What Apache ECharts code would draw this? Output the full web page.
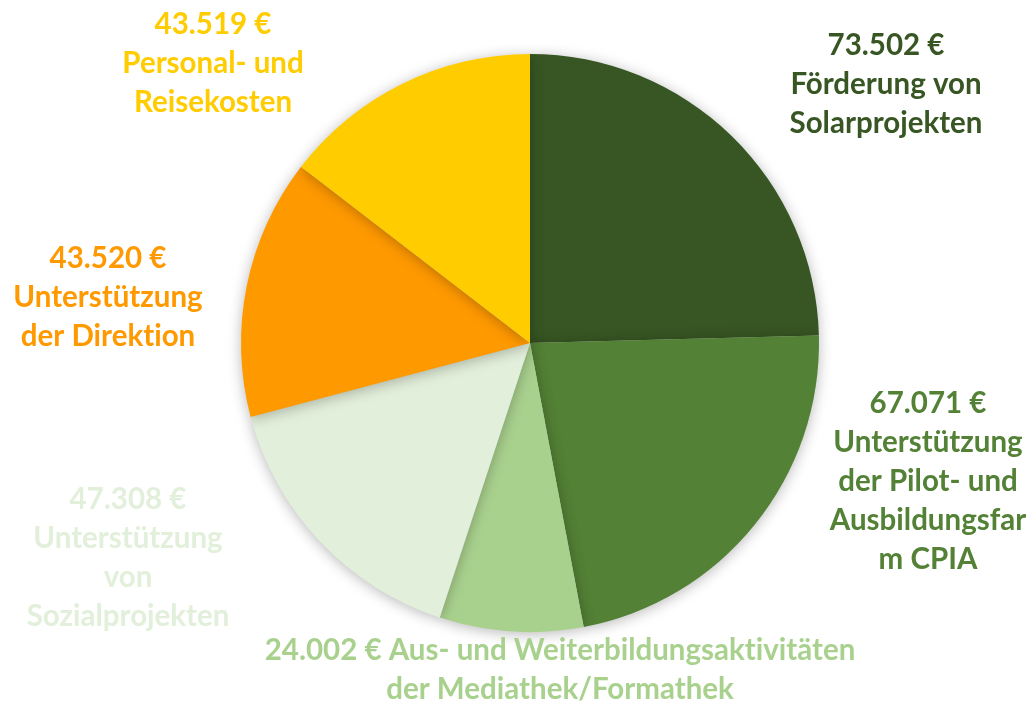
<!DOCTYPE html>
<html>
<head>
<meta charset="utf-8">
<script src="https://cdn.jsdelivr.net/npm/echarts@6/dist/echarts.min.js"></script>
<style>html,body{margin:0;padding:0;background:#fff;}#chart{width:1034px;height:702px;}</style>
</head>
<body>
<div id="chart"></div>
<script>
const categories = [
  'Förderung von\nSolarprojekten',
  'Unterstützung\nder Pilot- und\nAusbildungsfar\nm CPIA',
  'Aus- und Weiterbildungsaktivitäten\nder Mediathek/Formathek',
  'Unterstützung\nvon\nSozialprojekten',
  'Unterstützung\nder Direktion',
  'Personal- und\nReisekosten'
];
const values = [73502, 67071, 24002, 47308, 43520, 43519];
const colors = ['#375623', '#538135', '#A9D18E', '#E2EFDA', '#FF9900', '#FFCC00'];
// label anchor (centre) positions, in pixels
const labelCenters = [[886, 84], [928, 481], [560, 670], [128, 558], [108, 297], [213, 63]];

function fmt(v) {
  return v.toLocaleString('de-DE') + ' €';
}
function noLig(s) {
  return s.replace(/t(?=i)/g, 't\u200C').replace(/f(?=[il])/g, 'f\u200C');
}

const data = categories.map((c, i) => ({
  name: c,
  value: values[i],
  itemStyle: { color: colors[i] },
  label: { color: colors[i] }
}));

const chart = echarts.init(document.getElementById('chart'));
chart.setOption({
  animation: false,
  series: [{
    type: 'pie',
    center: [530, 343],
    radius: 289,
    startAngle: 90,
    clockwise: true,
    avoidLabelOverlap: false,
    data: data,
    itemStyle: {
      borderWidth: 0,
      shadowBlur: 14,
      shadowColor: 'rgba(0,0,0,0.28)',
      shadowOffsetY: 2
    },
    label: {
      show: true,
      position: 'outside',
      fontFamily: 'Lato',
      fontWeight: 'bold',
      fontSize: 29.5,
      lineHeight: 39,
      align: 'center',
      formatter: function (p) {
        const sep = p.dataIndex === 2 ? ' ' : '\n';
        return noLig(fmt(p.value) + sep + p.name);
      }
    },
    labelLine: { show: false },
    labelLayout: function (params) {
      const pos = labelCenters[params.dataIndex];
      return { x: pos[0], y: pos[1], align: 'center', verticalAlign: 'middle', hideOverlap: false };
    },
    emphasis: { disabled: true }
  }]
});
</script>
</body>
</html>
